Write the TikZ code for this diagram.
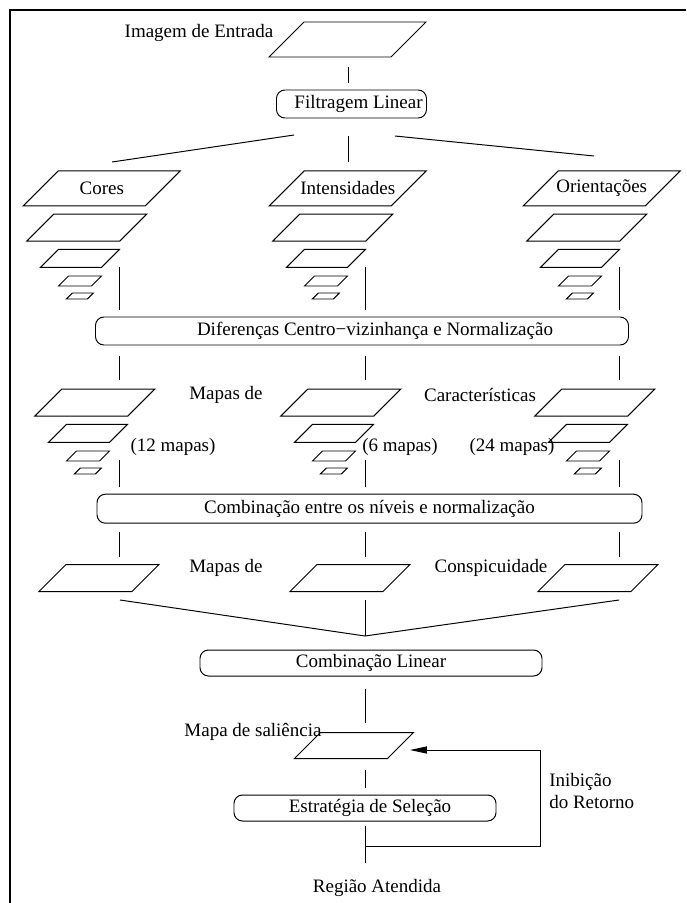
\documentclass[tikz,border=0pt]{standalone}
\usepackage{fontspec}
\setmainfont{Liberation Serif}
\usetikzlibrary{arrows.meta}

\newcommand{\pxu}{0.025cm}

\tikzset{
  every node/.style={font=\fontsize{13.5}{16}\selectfont},
  wire/.style={line width=0.7pt},
  plateline/.style={line width=0.7pt, line join=miter},
  box/.style={draw, line width=0.7pt, rounded corners=6pt, inner sep=0pt},
  frameline/.style={line width=2pt}
}

% plate: name, x, y, width, height, text
\newcommand{\plate}[6]{%
  \draw[plateline] ({#2-#4/2+#5/2},{#3-#5/2}) -- ++(#4,0) -- ++({-#5},#5) -- ++({-#4},0) -- cycle;
  \node (#1) at (#2,#3) {#6};
}

\begin{document}
\begin{tikzpicture}[x=0.025cm, y=-0.025cm]

\useasboundingbox (0,0) rectangle (686,903);
\draw[frameline] (10,903) -- (10,10) -- (686,10);

% input
\node (entrada) at (199,33) {Imagem de Entrada};
\plate{inp}{347.5}{39.5}{122}{35}{}

\node[box, minimum width=150*\pxu, minimum height=28*\pxu] (filt) at (351.5,104) {\hspace*{0.35cm}Filtragem Linear};

\coordinate (a1) at (348,67);
\coordinate (a2) at (348,83);
\coordinate (b1) at (348,136);
\coordinate (b2) at (348,162);
\coordinate (bl1) at (294,135);
\coordinate (bl2) at (112,162);
\coordinate (br1) at (395,136);
\coordinate (br2) at (594,156);

\draw[wire] (a1) -- (a2);
\draw[wire] (b1) -- (b2);
\draw[wire] (bl1) -- (bl2);
\draw[wire] (br1) -- (br2);

% pyramids
\plate{cor0}{101.75}{188.4}{122}{35}{Cores}
\plate{cor1}{86.7}{227.7}{93}{27}{}
\plate{cor2}{80}{258.3}{61}{18}{}
\plate{cor3}{80}{281}{33}{10}{}
\plate{cor4}{79.8}{296}{21}{6}{}

\plate{int0}{347.75}{188.4}{122}{35}{Intensidades}
\plate{int1}{332.7}{227.7}{93}{27}{}
\plate{int2}{326}{258.3}{61}{18}{}
\plate{int3}{326}{281}{33}{10}{}
\plate{int4}{325.8}{296}{21}{6}{}

\plate{ori0}{601.75}{188.4}{122}{35}{Orientações}
\plate{ori1}{586.7}{227.7}{93}{27}{}
\plate{ori2}{580}{258.3}{61}{18}{}
\plate{ori3}{580}{281}{33}{10}{}
\plate{ori4}{579.8}{296}{21}{6}{}

\coordinate (cor-a) at (119,267);
\coordinate (cor-b) at (119,310);
\coordinate (int-a) at (365,267);
\coordinate (int-b) at (365,310);
\coordinate (ori-a) at (619,267);
\coordinate (ori-b) at (619,310);

\draw[wire] (cor-a) -- (cor-b);
\draw[wire] (int-a) -- (int-b);
\draw[wire] (ori-a) -- (ori-b);

\node[box, minimum width=533*\pxu, minimum height=28*\pxu] (dif) at (362,331) {\hspace*{0.65cm}Diferenças Centro−vizinhança e Normalização};

\coordinate (cor-c) at (119,356);
\coordinate (cor-d) at (119,380);
\coordinate (int-c) at (365,356);
\coordinate (int-d) at (365,380);
\coordinate (ori-c) at (619,356);
\coordinate (ori-d) at (619,380);

\draw[wire] (cor-c) -- (cor-d);
\draw[wire] (int-c) -- (int-d);
\draw[wire] (ori-c) -- (ori-d);

% feature maps
\plate{fcor1}{94.7}{402.7}{93}{27}{}
\plate{fcor2}{88}{433.3}{61}{18}{}
\plate{fcor3}{88}{456}{33}{10}{}
\plate{fcor4}{87.8}{471}{21}{6}{}

\plate{fint1}{340.7}{402.7}{93}{27}{}
\plate{fint2}{334}{433.3}{61}{18}{}
\plate{fint3}{334}{456}{33}{10}{}
\plate{fint4}{333.8}{471}{21}{6}{}

\plate{fori1}{594.7}{402.7}{93}{27}{}
\plate{fori2}{588}{433.3}{61}{18}{}
\plate{fori3}{588}{456}{33}{10}{}
\plate{fori4}{587.8}{471}{21}{6}{}

\node (mapas1) at (226,395) {Mapas de};
\node (caract) at (480,395) {Características};
\node (n12) at (173,447) {(12 mapas)};
\node (n6) at (400,447) {(6 mapas)};
\node (n24) at (512,447) {(24 mapas)};

\coordinate (cor-e) at (119,460);
\coordinate (cor-f) at (119,487);
\coordinate (int-e) at (365,460);
\coordinate (int-f) at (365,487);
\coordinate (ori-e) at (619,460);
\coordinate (ori-f) at (619,487);

\draw[wire] (cor-e) -- (cor-f);
\draw[wire] (int-e) -- (int-f);
\draw[wire] (ori-e) -- (ori-f);

\node[box, minimum width=545*\pxu, minimum height=29*\pxu] (comb) at (369.5,508.7) {Combinação entre os níveis e normalização};

\coordinate (cor-g) at (119,532);
\coordinate (cor-h) at (119,557);
\coordinate (int-g) at (365,532);
\coordinate (int-h) at (365,557);
\coordinate (ori-g) at (619,532);
\coordinate (ori-h) at (619,557);

\draw[wire] (cor-g) -- (cor-h);
\draw[wire] (int-g) -- (int-h);
\draw[wire] (ori-g) -- (ori-h);

% conspicuity maps
\plate{ccor}{99}{578}{93}{27}{}
\plate{cint}{350}{578}{93}{27}{}
\plate{cori}{598}{578}{93}{27}{}

\node (mapas2) at (226,568) {Mapas de};
\node (consp) at (491,568) {Conspicuidade};

\coordinate (cs1) at (120,600);
\coordinate (cs2) at (365,600);
\coordinate (cs3) at (619,600);
\coordinate (join) at (365,636);

\draw[wire] (cs1) -- (join);
\draw[wire] (cs2) -- (join);
\draw[wire] (cs3) -- (join);

\node[box, minimum width=342*\pxu, minimum height=26*\pxu] (lin) at (371,663) {Combinação Linear};

\coordinate (l1) at (365,689);
\coordinate (l2) at (365,723);
\draw[wire] (l1) -- (l2);

% saliency
\node (salt) at (253,731.7) {Mapa de saliência};
\plate{sal}{354}{745.5}{93}{26}{}

\coordinate (s1) at (365,770);
\coordinate (s2) at (365,788);
\draw[wire] (s1) -- (s2);

\node[box, minimum width=262*\pxu, minimum height=26*\pxu] (sel) at (365,808) {\hspace*{0.25cm}Estratégia de Seleção};

\coordinate (e1) at (365,826);
\coordinate (e2) at (365,863);
\coordinate (fb) at (365,846);
\coordinate (fbr) at (540,846);
\coordinate (fbt) at (540,750);
\coordinate (tip) at (410,750);

\draw[wire] (e1) -- (e2);
\draw[wire, -{Triangle[length=12pt, width=5pt]}] (fb) -- (fbr) -- (fbt) -- (tip);

\node[anchor=west, align=left, inner sep=0pt] (inib) at (549,791) {Inibição\\do Retorno};
\node (regiao) at (377,888) {Região Atendida};

\end{tikzpicture}
\end{document}
